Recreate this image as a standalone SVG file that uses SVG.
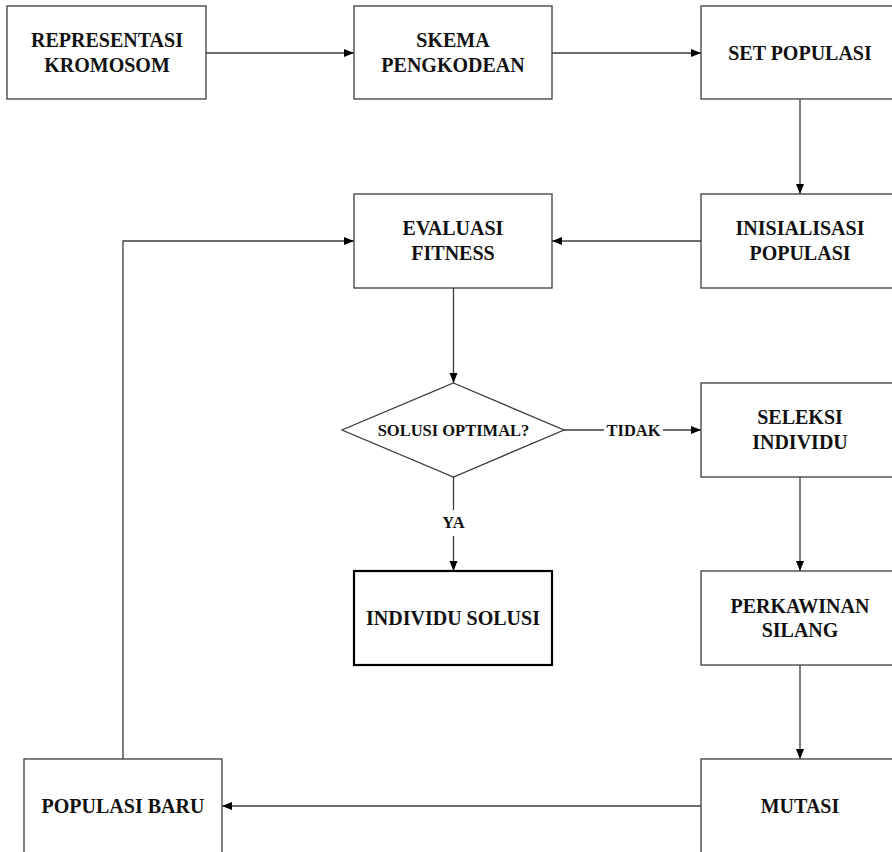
<svg xmlns="http://www.w3.org/2000/svg" width="892" height="852" viewBox="0 0 892 852">
<style>
.box{fill:#fff;stroke:#3c3c3c;stroke-width:1.3}
.thick{fill:#fff;stroke:#000;stroke-width:2.2}
.t{font-family:"Liberation Serif","Times New Roman",serif;font-weight:bold;font-size:20px;fill:#111;text-anchor:middle}
.s{font-size:16.5px}
.ln{fill:none;stroke:#3c3c3c;stroke-width:1.3}
</style>
<defs>
<marker id="ah" viewBox="0 0 10 10" refX="10" refY="5" markerWidth="10" markerHeight="10" markerUnits="userSpaceOnUse" orient="auto">
<path d="M0,1 L10,5 L0,9 Z" fill="#000"/>
</marker>
</defs>
<rect width="892" height="852" fill="#fff"/>
<g id="connectors">
<path class="ln" d="M206,53 H354" marker-end="url(#ah)"/>
<path class="ln" d="M552,53 H701" marker-end="url(#ah)"/>
<path class="ln" d="M800,99 V194" marker-end="url(#ah)"/>
<path class="ln" d="M701,241 H552" marker-end="url(#ah)"/>
<path class="ln" d="M453.5,288 V383" marker-end="url(#ah)"/>
<path class="ln" d="M564,430 H604"/>
<path class="ln" d="M663,430 H701" marker-end="url(#ah)"/>
<text class="t s" x="633.5" y="435.5">TIDAK</text>
<path class="ln" d="M453.5,477 V510"/>
<path class="ln" d="M453.5,536 V571" marker-end="url(#ah)"/>
<text class="t s" x="453.5" y="528">YA</text>
<path class="ln" d="M800,477 V571" marker-end="url(#ah)"/>
<path class="ln" d="M800,665 V759" marker-end="url(#ah)"/>
<path class="ln" d="M701,806 H222" marker-end="url(#ah)"/>
<path class="ln" d="M123,759 V241 H354" marker-end="url(#ah)"/>
</g>
<g id="representasi">
<rect class="box" x="7" y="6" width="199" height="93"/>
<text class="t" x="107" y="46.5">REPRESENTASI</text>
<text class="t" x="107" y="71.5">KROMOSOM</text>
</g>
<g id="skema">
<rect class="box" x="354" y="6" width="198" height="93"/>
<text class="t" x="453" y="46.5">SKEMA</text>
<text class="t" x="453" y="71.5">PENGKODEAN</text>
</g>
<g id="set-populasi">
<rect class="box" x="701" y="6" width="198" height="93"/>
<text class="t" x="800" y="60">SET POPULASI</text>
</g>
<g id="evaluasi">
<rect class="box" x="354" y="194" width="198" height="94"/>
<text class="t" x="453" y="235">EVALUASI</text>
<text class="t" x="453" y="260">FITNESS</text>
</g>
<g id="inisialisasi">
<rect class="box" x="701" y="194" width="198" height="94"/>
<text class="t" x="800" y="235">INISIALISASI</text>
<text class="t" x="800" y="260">POPULASI</text>
</g>
<g id="solusi-optimal">
<polygon class="box" points="453.5,383 564,430 453.5,477 342,430"/>
<text class="t s" x="453.5" y="435.5">SOLUSI OPTIMAL?</text>
</g>
<g id="seleksi">
<rect class="box" x="701" y="383" width="198" height="94"/>
<text class="t" x="800" y="423.5">SELEKSI</text>
<text class="t" x="800" y="449">INDIVIDU</text>
</g>
<g id="individu-solusi">
<rect class="thick" x="354" y="571" width="198" height="94"/>
<text class="t" x="453" y="625">INDIVIDU SOLUSI</text>
</g>
<g id="perkawinan">
<rect class="box" x="701" y="571" width="198" height="94"/>
<text class="t" x="800" y="612.5">PERKAWINAN</text>
<text class="t" x="800" y="637">SILANG</text>
</g>
<g id="mutasi">
<rect class="box" x="701" y="759" width="198" height="94"/>
<text class="t" x="800" y="813">MUTASI</text>
</g>
<g id="populasi-baru">
<rect class="box" x="24" y="759" width="198" height="94"/>
<text class="t" x="123" y="813">POPULASI BARU</text>
</g>
</svg>
